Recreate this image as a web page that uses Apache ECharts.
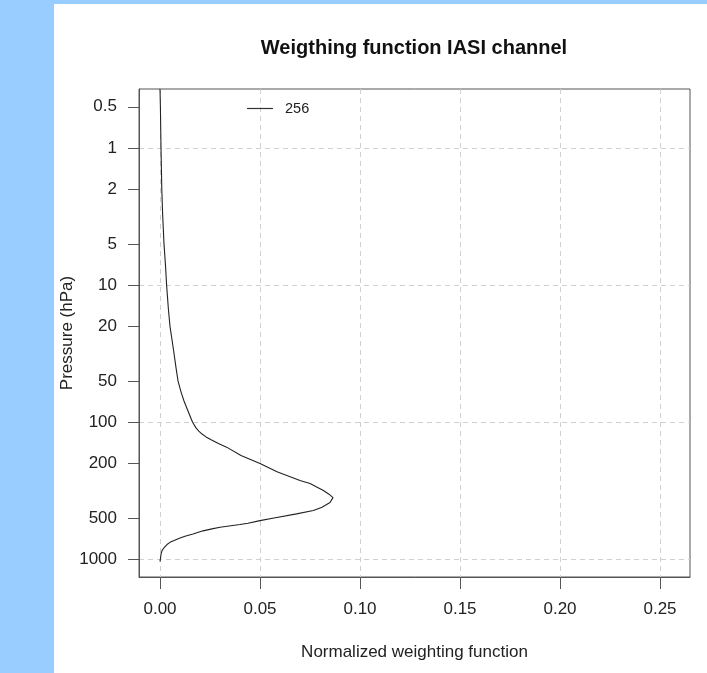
<!DOCTYPE html>
<html>
<head>
<meta charset="utf-8">
<script src="https://cdn.jsdelivr.net/npm/echarts@6/dist/echarts.min.js"></script>
<style>
html,body{margin:0;padding:0;background:#99ccff;width:707px;height:673px;overflow:hidden;}
#chart{position:absolute;left:54px;top:4px;width:653px;height:669px;background:#ffffff;}
</style>
</head>
<body>
<div id="chart"></div>
<script>
// Data
const seriesName = '256';
const pressures = [0.37, 0.5, 1, 2, 3, 5, 7, 10, 15, 20, 30, 40, 50, 60, 70, 80, 90, 100, 110, 116, 122, 128, 135, 143, 152, 175, 200, 230, 266, 280, 315, 335, 355, 385, 417, 441, 466, 500, 522, 546, 558, 584, 600, 620, 653, 680, 700, 752, 780, 817, 865, 920, 967, 1040];
const weights   = [0.0000, 0.0002, 0.0005, 0.0009, 0.0013, 0.0020, 0.0027, 0.0033, 0.0042, 0.0050, 0.0068, 0.0080, 0.0090, 0.0105, 0.0120, 0.0136, 0.0150, 0.0163, 0.0180, 0.0194, 0.0210, 0.0230, 0.0258, 0.0292, 0.0333, 0.0405, 0.0500, 0.0585, 0.0700, 0.0750, 0.0817, 0.0845, 0.0865, 0.0850, 0.0810, 0.0767, 0.0683, 0.0570, 0.0500, 0.0440, 0.0400, 0.0300, 0.0260, 0.0215, 0.0165, 0.0125, 0.0100, 0.0050, 0.0035, 0.0022, 0.0010, 0.0005, 0.0003, 0.0000];
const pressureTicks = [0.5, 1, 2, 5, 10, 20, 50, 100, 200, 500, 1000];
const pressureGrid = [1, 10, 100, 1000];
const weightTicks = [0, 0.05, 0.10, 0.15, 0.20, 0.25];

const chart = echarts.init(document.getElementById('chart'));
const lg = v => Math.log10(v);
const font = 'Liberation Sans, Arial, sans-serif';
const gridLine = { show: true, lineStyle: { color: '#d0d0d0', type: [5, 4], width: 1 } };

const option = {
  animation: false,
  backgroundColor: '#ffffff',
  title: {
    text: 'Weigthing function IASI channel',
    left: 360, top: 34, textAlign: 'center', padding: 0,
    textStyle: { fontFamily: font, fontSize: 20, fontWeight: 'bold', color: '#111' }
  },
  legend: {
    data: [{ name: seriesName, icon: 'rect' }],
    left: 193, top: 97, padding: 0,
    itemWidth: 26, itemHeight: 1.2,
    itemStyle: { color: '#333' },
    textStyle: { fontFamily: font, fontSize: 14.5, color: '#222', padding: [0, 0, 0, 7] }
  },
  grid: {
    left: 85, right: 17, top: 85, bottom: 96,
    outerBoundsMode: 'none', containLabel: false,
    show: true, borderColor: '#555', borderWidth: 1, backgroundColor: 'transparent'
  },
  xAxis: {
    type: 'value', min: -0.0105, max: 0.265,
    name: 'Normalized weighting function', nameLocation: 'middle', nameGap: 67, nameMoveOverlap: false,
    nameTextStyle: { fontFamily: font, fontSize: 17, color: '#222' },
    axisLine: { show: true, onZero: false, lineStyle: { color: '#555' } },
    axisTick: { show: true, length: 12, customValues: weightTicks, lineStyle: { color: '#555' } },
    axisLabel: { customValues: weightTicks, margin: 24, fontFamily: font, fontSize: 17, color: '#222',
      formatter: v => v.toFixed(2) },
    splitLine: gridLine
  },
  yAxis: [{
    type: 'value', inverse: true, min: lg(0.371), max: lg(1346),
    name: 'Pressure (hPa)', nameLocation: 'middle', nameGap: 63, nameMoveOverlap: false,
    nameTextStyle: { fontFamily: font, fontSize: 17, color: '#222' },
    axisLine: { show: true, onZero: false, lineStyle: { color: '#555' } },
    axisTick: { show: true, length: 11, customValues: pressureTicks.map(lg), lineStyle: { color: '#555' } },
    axisLabel: { customValues: pressureTicks.map(lg), margin: 22, fontFamily: font, fontSize: 17, color: '#222',
      formatter: v => { const p = Math.pow(10, v); return String(+p.toPrecision(3)); } },
    splitLine: { show: false }
  }, {
    type: 'value', inverse: true, min: lg(0.371), max: lg(1346), position: 'left',
    axisLine: { show: false, onZero: false },
    axisTick: { show: false, customValues: pressureGrid.map(lg) },
    axisLabel: { show: false, customValues: pressureGrid.map(lg) },
    splitLine: gridLine
  }],
  series: [{
    name: seriesName, type: 'line', yAxisIndex: 0,
    data: pressures.map((p, i) => [weights[i], lg(p)]),
    showSymbol: false, symbol: 'none',
    smooth: false,
    lineStyle: { color: '#222', width: 1.1 },
    itemStyle: { color: '#222' },
    clip: true
  }]
};
chart.setOption(option);
</script>
</body>
</html>
